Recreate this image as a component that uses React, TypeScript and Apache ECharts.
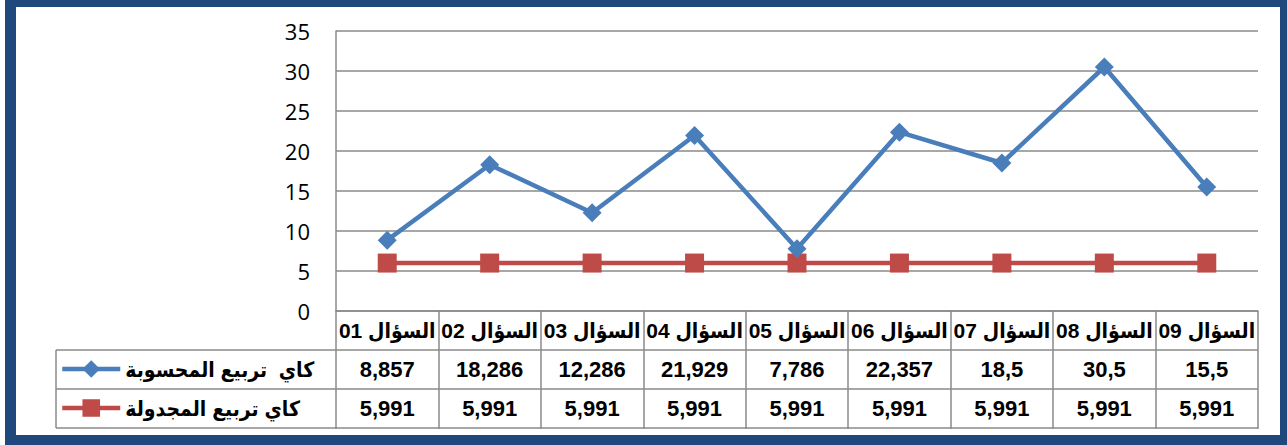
import React, { useEffect, useRef } from "react";
import * as echarts from "echarts";

const categories = [
  "السؤال 01",
  "السؤال 02",
  "السؤال 03",
  "السؤال 04",
  "السؤال 05",
  "السؤال 06",
  "السؤال 07",
  "السؤال 08",
  "السؤال 09",
];
const calculatedName = "كاي  تربيع المحسوبة";
const tabulatedName = "كاي تربيع المجدولة";
const calculatedValues = [8.857, 18.286, 12.286, 21.929, 7.786, 22.357, 18.5, 30.5, 15.5];
const tabulatedValues = [5.991, 5.991, 5.991, 5.991, 5.991, 5.991, 5.991, 5.991, 5.991];
const yTicks = { min: 0, max: 35, interval: 5 };

const fmt = (v: number) => String(v).replace(".", ",");

const GRID = { left: 336, top: 31, width: 922, height: 280 };
const ROW_H = 39;
const TABLE_LEFT = 56;
const GRAY = "#8a8a8a";
const NAVY = "#1F497D";
const BLUE = "#4A7EBB";
const RED = "#BE4B48";
const TABLE_FONT = "'Liberation Sans', Arial, 'DejaVu Sans Condensed', 'DejaVu Sans', sans-serif";

export default function App() {
  const ref = useRef<HTMLDivElement>(null);
  useEffect(() => {
    if (!ref.current) return;
    const chart = echarts.init(ref.current, undefined, { renderer: "svg" });
    const axisBottom = GRID.top + GRID.height;
    const tableRight = GRID.left + GRID.width;
    const labelStyle = {
      fontSize: 22,
      fontWeight: "bold" as const,
      color: "#000",
      fontFamily: TABLE_FONT,
      margin: 19,
      verticalAlign: "middle" as const,
      interval: 0,
    };
    const legendBase = {
      left: 60,
      padding: 0,
      itemWidth: 58,
      itemHeight: 22,
      itemGap: 2,
      selectedMode: false,
      lineStyle: { width: 4.5 },
      textStyle: { fontSize: 21, fontWeight: "bold", color: "#000", fontFamily: TABLE_FONT },
    };
    const hLines = [1, 2, 3].map((i) => ({
      type: "line",
      shape: { x1: TABLE_LEFT, y1: axisBottom + ROW_H * i, x2: tableRight, y2: axisBottom + ROW_H * i },
      style: { stroke: GRAY, lineWidth: 1.5 },
      z: 1,
    }));
    chart.setOption({
      animation: false,
      backgroundColor: "#fff",
      grid: { ...GRID, containLabel: false, outerBoundsMode: "none" },
      legend: [
        { ...legendBase, data: [calculatedName], top: axisBottom + ROW_H * 1.5 - 11 },
        { ...legendBase, data: [tabulatedName], top: axisBottom + ROW_H * 2.5 - 11 },
      ],
      xAxis: [
        {
          type: "category",
          data: categories,
          position: "bottom",
          boundaryGap: true,
          axisLine: { show: true, lineStyle: { color: GRAY, width: 1.5 } },
          axisTick: { show: true, length: ROW_H * 3 + 1, interval: 0, alignWithLabel: false, lineStyle: { color: GRAY, width: 1.5 } },
          axisLabel: { ...labelStyle, fontSize: 21 },
          splitLine: { show: false },
        },
        {
          type: "category",
          data: categories,
          position: "bottom",
          offset: ROW_H,
          boundaryGap: true,
          axisLine: { show: false },
          axisTick: { show: false },
          axisLabel: { ...labelStyle, formatter: (_v: string, i: number) => fmt(calculatedValues[i]) },
          splitLine: { show: false },
        },
        {
          type: "category",
          data: categories,
          position: "bottom",
          offset: ROW_H * 2,
          boundaryGap: true,
          axisLine: { show: false },
          axisTick: { show: false },
          axisLabel: { ...labelStyle, formatter: (_v: string, i: number) => fmt(tabulatedValues[i]) },
          splitLine: { show: false },
        },
      ],
      yAxis: {
        type: "value",
        min: yTicks.min,
        max: yTicks.max,
        interval: yTicks.interval,
        axisLine: { show: true, lineStyle: { color: GRAY, width: 1.5 } },
        axisTick: { show: false },
        axisLabel: { fontSize: 22, color: "#000", fontFamily: "'Open Sans', Lato, sans-serif", margin: 26 },
        splitLine: { show: true, lineStyle: { color: GRAY, width: 1.5 } },
      },
      series: [
        {
          name: calculatedName,
          type: "line",
          data: calculatedValues,
          symbol: "diamond",
          symbolSize: 19,
          lineStyle: { color: BLUE, width: 4.5 },
          itemStyle: { color: BLUE },
          z: 3,
        },
        {
          name: tabulatedName,
          type: "line",
          data: tabulatedValues,
          symbol: "rect",
          symbolSize: 19,
          lineStyle: { color: RED, width: 4.5 },
          itemStyle: { color: RED },
          z: 2,
        },
      ],
      graphic: [
        ...hLines,
        {
          type: "line",
          shape: { x1: TABLE_LEFT, y1: axisBottom + ROW_H, x2: TABLE_LEFT, y2: axisBottom + ROW_H * 3 },
          style: { stroke: GRAY, lineWidth: 1.5 },
          z: 1,
        },
        { type: "rect", shape: { x: 5, y: 0, width: 1282, height: 7 }, style: { fill: NAVY }, z: 10 },
        { type: "rect", shape: { x: 5, y: 0, width: 11, height: 445 }, style: { fill: NAVY }, z: 10 },
        { type: "rect", shape: { x: 1280, y: 0, width: 7, height: 445 }, style: { fill: NAVY }, z: 10 },
        { type: "rect", shape: { x: 5, y: 435, width: 1282, height: 10 }, style: { fill: NAVY }, z: 10 },
      ],
    });
    return () => chart.dispose();
  }, []);
  return (
    <div
      ref={ref}
      style={{ position: "fixed", left: 0, top: 0, width: 1287, height: 445 }}
    />
  );
}
